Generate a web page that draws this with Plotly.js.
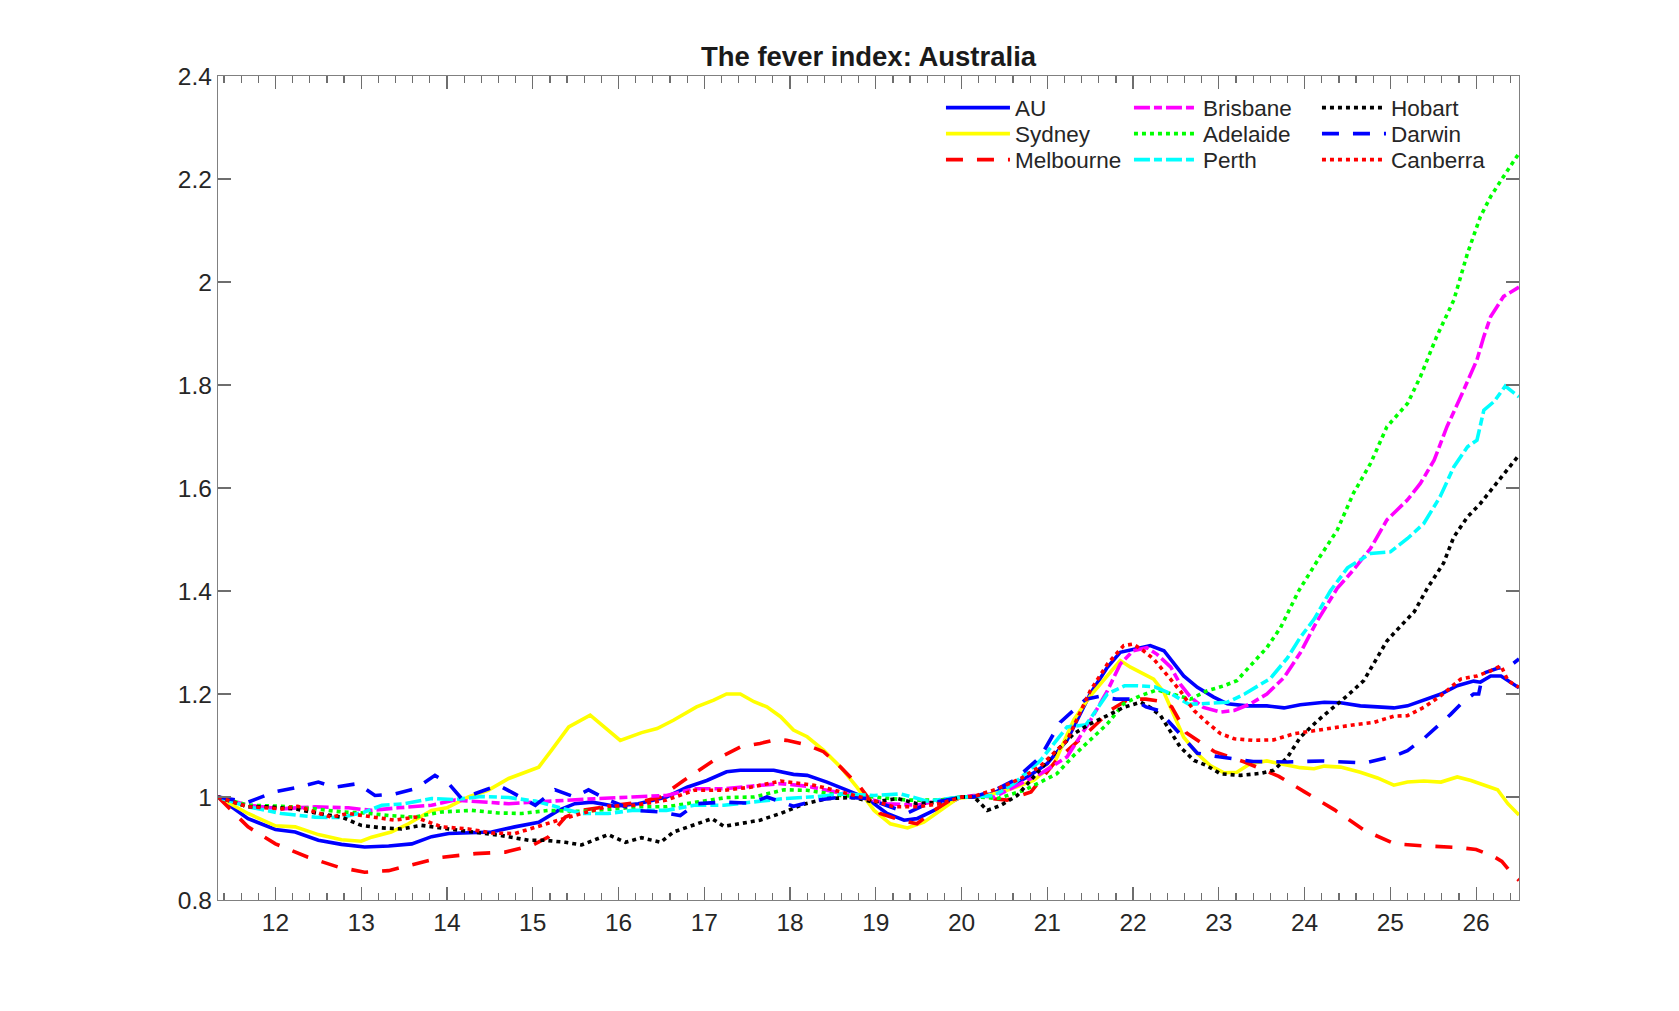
<!DOCTYPE html>
<html>
<head>
<meta charset="utf-8">
<script src="https://cdn.plot.ly/plotly-3.0.1.min.js"></script>
<style>html,body{margin:0;padding:0;background:#fff;}#chart{width:1679px;height:1011px;}</style>
</head>
<body>
<div id="chart"></div>
<script>
// ---------------- data ----------------
const seriesNames = ['AU','Sydney','Melbourne','Brisbane','Adelaide','Perth','Hobart','Darwin','Canberra'];
const xTickVals = [12,13,14,15,16,17,18,19,20,21,22,23,24,25,26];
const yTickVals = [0.8,1.0,1.2,1.4,1.6,1.8,2.0,2.2,2.4];

const xAU = [11.33,11.68,12.0,12.23,12.5,12.77,13.04,13.32,13.59,13.82,14.02,14.25,14.52,14.79,15.07,15.3,15.49,15.69,15.96,16.23,16.56,16.8,17.03,17.26,17.42,17.81,18.04,18.2,18.43,18.67,18.9,19.13,19.33,19.48,19.68,19.91,20.0,20.14,20.34,20.53,20.77,21.0,21.23,21.5,21.7,21.85,22.0,22.2,22.36,22.47,22.59,22.75,22.94,23.1,23.33,23.56,23.76,23.95,24.23,24.42,24.65,24.85,25.04,25.2,25.39,25.59,25.78,25.97,26.05,26.17,26.29,26.37,26.5];
const yAU = [1.0,0.958,0.937,0.932,0.916,0.908,0.903,0.905,0.909,0.923,0.929,0.931,0.932,0.942,0.951,0.974,0.987,0.99,0.982,0.987,1.0,1.019,1.032,1.049,1.052,1.052,1.044,1.042,1.029,1.013,0.997,0.968,0.955,0.958,0.974,0.994,1.0,1.0,1.006,1.019,1.039,1.065,1.11,1.2,1.252,1.281,1.287,1.294,1.284,1.261,1.235,1.213,1.194,1.181,1.177,1.177,1.173,1.179,1.184,1.183,1.177,1.175,1.173,1.177,1.188,1.2,1.216,1.225,1.223,1.235,1.235,1.226,1.212];

const xSydney = [11.33,11.68,12.0,12.23,12.5,12.77,13.0,13.12,13.35,13.55,13.82,14.0,14.25,14.48,14.72,15.07,15.22,15.42,15.67,15.84,16.02,16.27,16.45,16.64,16.91,17.11,17.26,17.42,17.58,17.73,17.89,18.04,18.2,18.39,18.59,18.78,18.98,19.17,19.37,19.56,19.75,19.95,20.14,20.3,20.53,20.84,21.08,21.31,21.5,21.7,21.85,21.97,22.09,22.24,22.36,22.47,22.59,22.75,22.9,23.06,23.21,23.37,23.56,23.76,23.95,24.11,24.23,24.42,24.65,24.85,25.04,25.2,25.39,25.59,25.78,25.94,26.09,26.25,26.37,26.5];
const ySydney = [1.0,0.968,0.944,0.942,0.927,0.917,0.914,0.922,0.932,0.948,0.974,0.979,1.0,1.013,1.036,1.058,1.091,1.136,1.159,1.136,1.11,1.125,1.133,1.149,1.175,1.188,1.2,1.2,1.185,1.175,1.156,1.13,1.117,1.091,1.058,1.019,0.974,0.948,0.94,0.951,0.974,0.997,1.001,1.003,1.013,1.032,1.065,1.15,1.196,1.235,1.265,1.252,1.242,1.229,1.203,1.161,1.116,1.084,1.061,1.047,1.048,1.065,1.07,1.063,1.057,1.055,1.06,1.058,1.048,1.037,1.023,1.029,1.031,1.029,1.039,1.032,1.023,1.014,0.987,0.965];

const xMelbourne = [11.33,11.68,12.0,12.38,12.73,13.04,13.32,13.63,13.94,14.33,14.68,14.99,15.18,15.38,15.57,15.96,16.25,16.49,16.76,17.11,17.42,17.65,17.85,17.96,18.2,18.39,18.59,18.82,19.05,19.29,19.48,19.68,19.87,20.0,20.14,20.34,20.53,20.81,21.1,21.5,21.75,21.95,22.15,22.35,22.45,22.62,22.95,23.3,23.7,24.0,24.35,24.7,25.05,25.4,25.8,26.0,26.2,26.3,26.4,26.5];
const yMelbourne = [1.0,0.942,0.909,0.883,0.864,0.854,0.857,0.87,0.883,0.89,0.893,0.906,0.922,0.961,0.974,0.984,0.99,1.0,1.032,1.071,1.097,1.104,1.112,1.11,1.101,1.088,1.058,1.019,0.968,0.955,0.948,0.974,0.994,1.0,1.0,0.997,0.994,1.01,1.07,1.13,1.17,1.19,1.19,1.185,1.175,1.125,1.088,1.068,1.04,1.01,0.975,0.935,0.909,0.905,0.902,0.898,0.885,0.875,0.855,0.838];

const xBrisbane = [11.33,11.68,12.07,12.46,12.85,13.12,13.43,13.82,14.09,14.4,14.72,14.99,15.38,15.77,16.16,16.56,16.88,17.23,17.54,17.89,18.2,18.51,18.82,19.13,19.48,19.75,20.0,20.14,20.38,20.61,20.92,21.23,21.5,21.7,21.85,22.0,22.16,22.28,22.44,22.55,22.67,22.82,23.02,23.18,23.37,23.56,23.76,23.95,24.14,24.38,24.57,24.77,24.96,25.2,25.35,25.51,25.66,25.82,26.01,26.09,26.17,26.32,26.5];
const yBrisbane = [1.0,0.984,0.977,0.981,0.979,0.974,0.979,0.984,0.994,0.99,0.987,0.99,0.994,0.997,1.0,1.003,1.016,1.016,1.021,1.026,1.021,1.01,1.0,0.987,0.984,0.994,1.0,1.003,1.0,1.019,1.045,1.078,1.148,1.206,1.258,1.284,1.29,1.277,1.252,1.219,1.194,1.174,1.165,1.168,1.181,1.2,1.232,1.28,1.34,1.405,1.441,1.483,1.538,1.577,1.609,1.654,1.719,1.777,1.849,1.894,1.933,1.972,1.99];

const xAdelaide = [11.33,11.68,12.07,12.46,12.77,13.04,13.32,13.63,13.94,14.29,14.6,14.87,15.18,15.57,15.96,16.25,16.56,16.88,17.26,17.58,17.93,18.2,18.59,18.98,19.37,19.75,20.0,20.14,20.42,20.73,20.92,21.11,21.31,21.5,21.7,21.89,22.09,22.28,22.47,22.67,22.86,23.06,23.21,23.37,23.56,23.72,23.93,24.18,24.38,24.57,24.77,24.96,25.2,25.35,25.54,25.74,25.9,26.05,26.17,26.32,26.5];
const yAdelaide = [1.0,0.984,0.982,0.977,0.971,0.969,0.964,0.961,0.971,0.974,0.969,0.968,0.974,0.972,0.977,0.981,0.981,0.99,0.999,1.0,1.014,1.013,1.003,1.0,0.994,0.994,1.0,1.001,0.997,1.013,1.029,1.045,1.081,1.11,1.142,1.181,1.197,1.208,1.2,1.19,1.206,1.216,1.226,1.255,1.29,1.329,1.4,1.467,1.518,1.59,1.648,1.719,1.764,1.816,1.894,1.965,2.056,2.127,2.166,2.205,2.25];

const xPerth = [11.33,11.68,12.07,12.46,12.77,13.04,13.24,13.51,13.82,14.09,14.4,14.72,15.03,15.38,15.57,15.88,16.16,16.56,16.88,17.23,17.54,17.93,18.32,18.59,18.98,19.29,19.6,19.91,20.0,20.14,20.38,20.61,20.92,21.23,21.45,21.7,21.9,22.05,22.25,22.45,22.65,22.9,23.1,23.3,23.6,23.8,23.95,24.11,24.3,24.5,24.77,25.0,25.2,25.39,25.58,25.74,25.9,26.01,26.09,26.21,26.34,26.5];
const yPerth = [1.0,0.981,0.968,0.961,0.96,0.971,0.984,0.987,0.997,0.995,1.001,0.999,0.992,0.977,0.968,0.968,0.974,0.974,0.984,0.984,0.99,0.997,1.001,1.006,1.003,1.006,0.992,0.999,1.0,1.0,1.003,1.026,1.071,1.136,1.14,1.2,1.216,1.216,1.214,1.2,1.18,1.182,1.184,1.2,1.23,1.27,1.31,1.345,1.4,1.445,1.473,1.476,1.502,1.531,1.583,1.641,1.68,1.693,1.751,1.768,1.798,1.777];

const xHobart = [11.33,11.68,11.91,12.23,12.5,12.77,13.0,13.24,13.47,13.7,14.02,14.33,14.64,14.95,15.14,15.38,15.57,15.88,16.08,16.27,16.49,16.64,16.91,17.09,17.23,17.42,17.65,17.89,18.16,18.43,18.74,18.98,19.25,19.48,19.75,20.0,20.14,20.3,20.46,20.65,20.92,21.11,21.31,21.5,21.7,21.89,22.09,22.2,22.32,22.43,22.55,22.71,22.86,23.02,23.25,23.49,23.64,23.8,23.95,24.15,24.34,24.5,24.69,24.85,24.96,25.12,25.28,25.43,25.62,25.74,25.9,26.05,26.21,26.36,26.5];
const yHobart = [1.0,0.981,0.981,0.977,0.968,0.961,0.945,0.94,0.938,0.945,0.938,0.932,0.925,0.916,0.916,0.912,0.907,0.927,0.912,0.921,0.912,0.932,0.948,0.958,0.943,0.948,0.955,0.968,0.986,0.997,0.999,0.99,0.997,0.987,0.99,1.0,1.001,0.974,0.984,1.003,1.055,1.09,1.123,1.142,1.158,1.174,1.184,1.174,1.158,1.129,1.097,1.071,1.061,1.045,1.042,1.046,1.052,1.077,1.116,1.148,1.174,1.197,1.226,1.271,1.303,1.332,1.36,1.405,1.454,1.505,1.544,1.57,1.603,1.635,1.664];

const xDarwin = [11.33,11.68,11.99,12.26,12.5,12.69,12.96,13.16,13.39,13.63,13.86,14.02,14.17,14.4,14.6,14.79,15.03,15.26,15.49,15.65,15.88,16.19,16.49,16.72,16.91,17.23,17.54,17.73,18.04,18.32,18.59,18.9,19.13,19.37,19.6,19.91,20.0,20.14,20.38,20.61,20.92,21.15,21.45,21.6,21.8,22.0,22.15,22.3,22.5,22.75,23.0,23.4,23.8,24.2,24.7,25.05,25.2,25.4,25.7,25.85,25.97,26.03,26.08,26.25,26.4,26.5];
const yDarwin = [1.0,0.99,1.01,1.019,1.029,1.019,1.026,1.003,1.006,1.016,1.042,1.026,0.997,1.01,1.023,1.006,0.984,1.014,1.0,1.014,0.994,0.974,0.971,0.964,0.987,0.99,0.988,1.0,0.982,0.994,1.0,0.997,0.984,0.969,0.987,0.997,1.0,1.0,1.013,1.032,1.078,1.145,1.19,1.195,1.19,1.19,1.175,1.168,1.13,1.085,1.078,1.069,1.068,1.07,1.066,1.08,1.09,1.115,1.16,1.185,1.2,1.2,1.24,1.25,1.255,1.268];

const xCanberra = [11.33,11.68,12.07,12.26,12.46,12.65,12.85,13.12,13.39,13.63,13.94,14.25,14.52,14.79,15.03,15.3,15.57,15.88,16.19,16.56,16.88,17.23,17.54,17.89,18.28,18.59,18.9,19.21,19.48,19.75,20.0,20.14,20.42,20.69,20.92,21.23,21.5,21.7,21.89,22.0,22.12,22.24,22.4,22.55,22.71,22.86,23.02,23.18,23.4,23.64,23.88,24.11,24.34,24.61,24.81,25.04,25.2,25.39,25.59,25.82,26.01,26.17,26.29,26.37,26.5];
const yCanberra = [1.0,0.981,0.977,0.982,0.971,0.961,0.968,0.961,0.955,0.961,0.942,0.938,0.93,0.929,0.942,0.955,0.968,0.982,0.984,0.994,1.013,1.013,1.019,1.031,1.023,1.01,0.997,0.981,0.981,0.987,1.0,1.001,1.016,1.036,1.06,1.11,1.206,1.258,1.294,1.297,1.284,1.268,1.235,1.206,1.168,1.145,1.123,1.113,1.11,1.111,1.123,1.129,1.135,1.141,1.145,1.157,1.158,1.174,1.197,1.229,1.235,1.245,1.255,1.226,1.213];

// ---------------- styling ----------------
const FONT = 'Liberation Sans, Arial, Helvetica, sans-serif';
const xs = [xAU,xSydney,xMelbourne,xBrisbane,xAdelaide,xPerth,xHobart,xDarwin,xCanberra];
const ys = [yAU,ySydney,yMelbourne,yBrisbane,yAdelaide,yPerth,yHobart,yDarwin,yCanberra];
const styles = [
  {color:'#0000ff', dash:'solid',                legend:'legend'},
  {color:'#ffff00', dash:'solid',                legend:'legend2'},
  {color:'#ff0000', dash:'17px,14px',            legend:'legend3'},
  {color:'#ff00ff', dash:'16px,4px,8px,4px',     legend:'legend'},
  {color:'#00ff00', dash:'4px,4px',              legend:'legend2'},
  {color:'#00ffff', dash:'16px,4px,8px,4px',     legend:'legend3'},
  {color:'#000000', dash:'4px,4px',              legend:'legend'},
  {color:'#0000ff', dash:'17px,14px',            legend:'legend2'},
  {color:'#ff0000', dash:'4px,4px',              legend:'legend3'}
];

const traces = seriesNames.map((name, i) => ({
  type: 'scatter', mode: 'lines', name: name,
  x: xs[i], y: ys[i],
  line: {color: styles[i].color, width: 3.6, dash: styles[i].dash},
  legend: styles[i].legend,
  hoverinfo: 'skip'
}));

const axisCommon = {
  showline: true, linecolor: '#808080', linewidth: 1.2,
  mirror: 'ticks', ticks: 'inside', ticklen: 13, tickwidth: 1.2, tickcolor: '#6e6e6e',
  showgrid: false, zeroline: false,
  tickfont: {family: FONT, size: 24.5, color: '#262626'}
};

const legendCommon = {
  orientation: 'h', xanchor: 'left', yanchor: 'middle',
  x: 0.5557, itemwidth: 64, entrywidth: 109, entrywidthmode: 'pixels',
  bgcolor: 'rgba(0,0,0,0)', borderwidth: 0,
  font: {family: FONT, size: 22.5, color: '#262626'},
  itemclick: false, itemdoubleclick: false
};

const layout = {
  width: 1679, height: 1011,
  margin: {l: 218, r: 160, t: 76, b: 111, pad: 0},
  paper_bgcolor: '#ffffff', plot_bgcolor: '#ffffff',
  title: {
    text: '<b>The fever index: Australia</b>',
    font: {family: FONT, size: 27.5, color: '#1a1a1a'},
    x: 0.5, xref: 'paper', xanchor: 'center',
    y: 1 - 56/1011, yref: 'container', yanchor: 'middle'
  },
  xaxis: Object.assign({}, axisCommon, {
    range: [11.33, 26.5], tickmode: 'array', tickvals: xTickVals,
    minor: {dtick: 0.2, tick0: 0, ticks: 'inside', ticklen: 7, tickwidth: 1.2, tickcolor: '#6e6e6e', showgrid: false}
  }),
  yaxis: Object.assign({}, axisCommon, {
    range: [0.8, 2.4], tickmode: 'array', tickvals: yTickVals
  }),
  legend:  Object.assign({}, legendCommon, {y: (900-108)/824}),
  legend2: Object.assign({}, legendCommon, {y: (900-134)/824}),
  legend3: Object.assign({}, legendCommon, {y: (900-160)/824}),
  showlegend: true
};

Plotly.newPlot('chart', traces, layout, {displayModeBar: false, staticPlot: true});
</script>
</body>
</html>
